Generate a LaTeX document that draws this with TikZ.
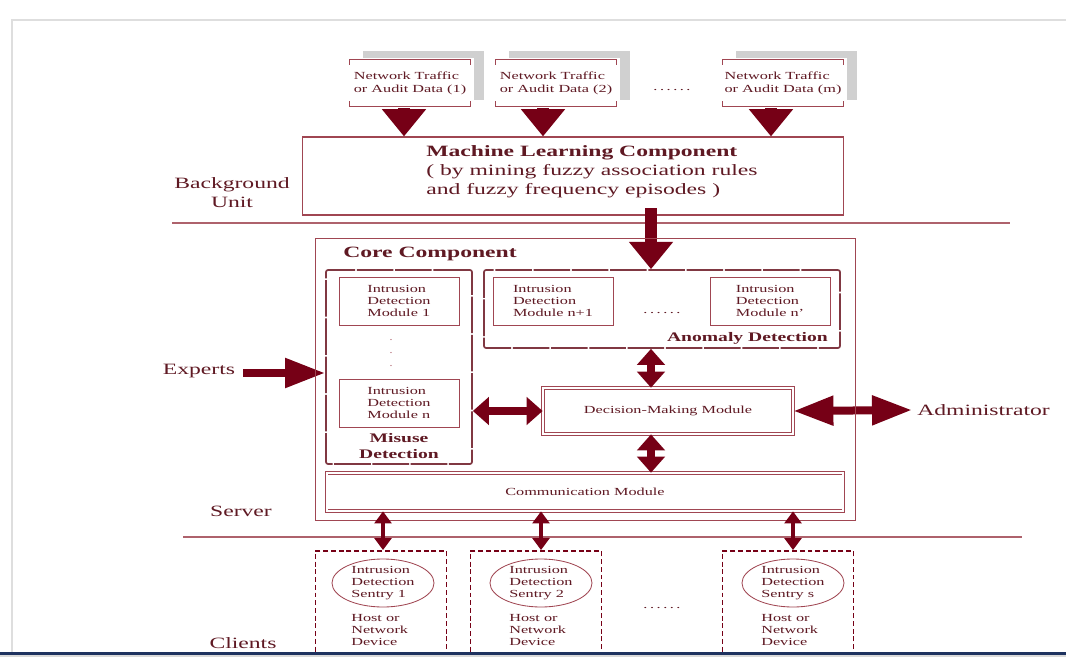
\documentclass[tikz,border=0pt]{standalone}
\usepackage{fontspec}
\setmainfont{Liberation Serif}[FakeStretch=1.5]
\usetikzlibrary{arrows.meta}
\usetikzlibrary{shapes.geometric}
\usetikzlibrary{calc}

\definecolor{arrowred}{RGB}{118,0,22}
\definecolor{linered}{RGB}{160,70,82}
\definecolor{textred}{RGB}{95,25,35}
\definecolor{shadowgray}{RGB}{208,208,208}
\definecolor{framegray}{RGB}{222,222,222}
\definecolor{pagenavy}{RGB}{30,50,95}

\newcommand\smallfont{\fontsize{7.7}{8.6}\selectfont}
\newcommand\midfont{\fontsize{9.3}{12}\selectfont\bfseries}
\newcommand\bigfont{\fontsize{11.2}{13.5}\selectfont}
\newcommand\dotrow{.\kern1.8pt.\kern1.8pt.\kern1.8pt.\kern1.8pt.\kern1.8pt.}

\tikzset{
  boxtext/.style={inner sep=0pt, text=textred, font=\smallfont, align=left},
  unitlabel/.style={inner sep=0pt, text=textred, font=\bigfont, align=center},
  databox/.style={boxtext, font=\fontsize{7.7}{9.2}\selectfont, fill=white, minimum width=3.175cm, minimum height=1.25cm},
  modulebox/.style={boxtext, draw=linered, line width=0.6pt, minimum width=3cm, minimum height=1.2cm},
  groupbox/.style={draw=linered!80!black, line width=1.2pt, dash pattern=on 26pt off 1.2pt, rounded corners=1.5pt},
  dblbox/.style={boxtext, align=center, draw=linered, double, double distance=1.2pt, line width=0.5pt},
  clientbox/.style={draw=arrowred, line width=1.3pt, dash pattern=on 3.5pt off 2pt},
  sentry/.style={boxtext, ellipse, inner sep=-1pt, draw=linered, line width=0.6pt, minimum width=2.55cm, minimum height=1.2cm},
  sepline/.style={draw=linered!85, line width=0.8pt},
  bigarrow/.style={arrowred, line width=0.32cm, -{Triangle[length=0.68cm,width=1.06cm]}},
  widearrow/.style={arrowred, line width=0.2cm, -{Triangle[length=1.0cm,width=0.7cm]}},
  widedbl/.style={arrowred, line width=0.2cm, {Triangle[length=1.0cm,width=0.7cm]}-{Triangle[length=1.0cm,width=0.7cm]}},
  dblarrow/.style={arrowred, line width=0.2cm, {Triangle[length=0.4cm,width=0.68cm]}-{Triangle[length=0.4cm,width=0.68cm]}},
  thinarrow/.style={arrowred, line width=0.1cm, {Triangle[length=0.3cm,width=0.42cm]}-{Triangle[length=0.3cm,width=0.42cm]}}
}

\begin{document}
\begin{tikzpicture}[x=0.025cm, y=-0.025cm]
\useasboundingbox (0,0) rectangle (1066,657);
\clip (0,0) rectangle (1066,657);
\fill[white] (0,0) rectangle (1066,657);
\draw[framegray, line width=0.8pt] (12,657) -- (12,20) -- (1066,20);

% background unit
\node[draw=linered, line width=0.8pt, minimum width=13.5cm, minimum height=1.95cm] (ml) at (573,176) {};
\node[unitlabel, align=left, anchor=west] (mltext) at (426,172)
  {\textbf{Machine Learning Component}\\( by mining fuzzy association rules\\and fuzzy frequency episodes )};
\node[unitlabel] (bgunit) at (232,193) {Background\\Unit};

% data sources
\foreach \cx/\dx/\lbl/\nm in {410/-6/1/d1, 556/-13/2/d2, 783/-12/m/d3}{
  \fill[shadowgray] (\cx-47,51) rectangle (\cx+74,100);
  \node[databox] (\nm) at (\cx,83) {Network Traffic\\or Audit Data (\lbl)};
  \draw[linered, line width=0.8pt] ([shift={(3,7)}]\nm.north west) -- ++(0,-5)
    -- ([shift={(-3,2)}]\nm.north east) -- ++(0,5);
  \draw[linered, line width=0.8pt] ([shift={(3,-7)}]\nm.south west) -- ++(0,5)
    -- ([shift={(-3,-2)}]\nm.south east) -- ++(0,-5);
  \draw[bigarrow] ([xshift=\dx*0.025cm]\nm.south) -- ([xshift=\dx*0.025cm]\nm.south |- ml.north);
}
\node[boxtext] (datadots) at (672,90) {\dotrow};

\draw[sepline] (172,223) -- (1010,223);

% server
\node[unitlabel, font=\bigfont\bfseries, anchor=west] (coretitle) at (343,254) {Core Component};
\node[groupbox, minimum width=3.65cm, minimum height=4.85cm] (misuse) at (399,367) {};
\node[groupbox, minimum width=8.9cm, minimum height=1.95cm] (anomaly) at (662,309) {};

\node[modulebox] (mod1) at (399,301) {Intrusion\\Detection\\Module 1};
\node[boxtext, align=center, text=linered!60, font=\fontsize{7.5}{9.2}\selectfont] (moddots) at (391,353) {.\\.\\.};
\node[modulebox] (modn) at (399,403) {Intrusion\\Detection\\Module n};
\node[unitlabel, font=\midfont] (misusetitle) at (399,446) {Misuse\\Detection};

\node[modulebox] (modn1) at (553,301) {Intrusion\\Detection\\Module n+1};
\node[boxtext] (anodots) at (662,313) {\dotrow};
\node[modulebox] (modnp) at (770,301) {Intrusion\\Detection\\Module n'};
\node[unitlabel, font=\midfont, anchor=east] (anomalytitle) at (828,338) {Anomaly Detection};

\node[dblbox, minimum width=6.25cm, minimum height=1.15cm] (decision) at (668,411) {Decision-Making Module};
\node[dblbox, minimum width=12.9cm, minimum height=0.95cm] (comm) at (585,492) {Communication Module};

\node[unitlabel] (experts) at (199,371) {Experts};
\node[unitlabel, anchor=west] (admin) at (917,410) {Administrator};
\node[unitlabel] (server) at (241,511) {Server};

\draw[bigarrow] ([xshift=1.95cm,yshift=0.18cm]ml.south) -- ([xshift=1.95cm]ml.south |- anomaly.north);
\draw[widearrow] ($(experts.east)+(8,2)$) -- ($(experts.east -| misuse.west)+(0,2)$);
\draw[dblarrow] ([xshift=-0.425cm]decision.north) -- ([xshift=-0.425cm]decision.north |- anomaly.south);
\draw[dblarrow] ([xshift=-0.425cm]decision.south) -- ([xshift=-0.425cm]decision.south |- comm.north);
\draw[dblarrow] (decision.west -| misuse.east) -- (decision.west);
\draw[widedbl] (decision.east) -- ($(admin.west)+(-5,0)$);

\node[draw=linered, line width=0.7pt, minimum width=13.475cm, minimum height=7.025cm] (core) at (585.5,379.5) {};

\draw[sepline] (183,537) -- (1022,537);

% clients
\foreach \cx/\sx/\k/\cb/\nm in {381/383/1/c1/s1, 536/541/2/c2/s2, 788/793/s/c3/s3}{
  \node[clientbox, minimum width=3.275cm, minimum height=2.85cm] (\cb) at (\cx,608) {};
  \node[sentry] (\nm) at (\sx,583) {Intrusion\\Detection\\Sentry \k};
  \node[boxtext, anchor=west] (h\nm) at ($(\nm.center)+(-32,47)$) {Host or\\Network\\Device};
  \draw[thinarrow] (comm.south -| \nm) -- (\nm |- \cb.north);
}
\node[boxtext] (clientdots) at (662,608) {\dotrow};
\node[unitlabel] (clients) at (243,643) {Clients};

\fill[pagenavy] (0,651.5) rectangle (1066,654.5);
\fill[gray!30] (0,654.5) rectangle (1066,657);
\end{tikzpicture}
\end{document}
